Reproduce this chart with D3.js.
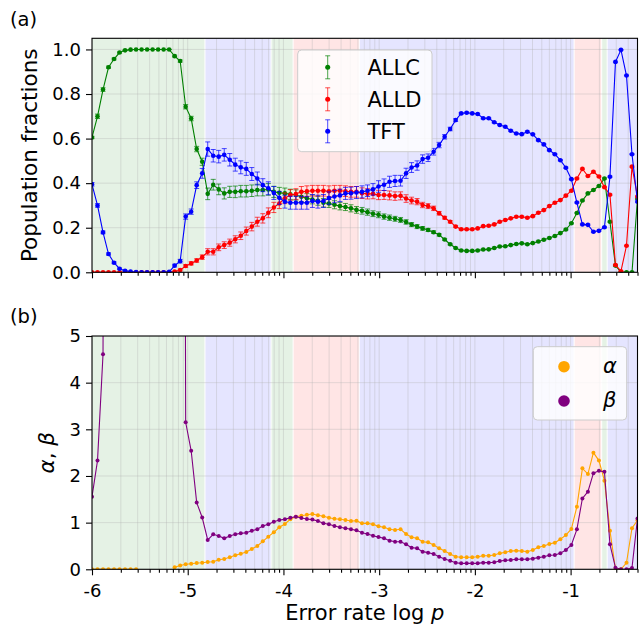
<!DOCTYPE html>
<html><head><meta charset="utf-8">
<script src="https://cdn.jsdelivr.net/npm/d3@7"></script>
<style>body{margin:0;background:#fff} text{font-family:"DejaVu Sans",sans-serif;fill:#000}</style>
</head><body><svg id="c" width="641" height="627"></svg>
<script>
// ---------- data ----------
const logpStart = -6, logpEnd = Math.log10(0.5), nPoints = 100;

const ALLC = [
0.605,0.70,0.82,0.92,0.957,0.986,0.996,0.999,1.0,1.0,
1.0,1.0,1.0,1.0,1.0,0.97,0.948,0.743,0.69,0.553,
0.496,0.352,0.393,0.372,0.354,0.361,0.361,0.364,0.364,0.366,
0.369,0.369,0.372,0.361,0.357,0.354,0.35,0.347,0.339,0.332,
0.327,0.321,0.312,0.309,0.303,0.297,0.293,0.287,0.28,0.276,
0.27,0.263,0.258,0.25,0.245,0.24,0.235,0.226,0.214,0.205,
0.197,0.19,0.18,0.168,0.147,0.126,0.109,0.098,0.096,0.096,
0.098,0.102,0.103,0.109,0.116,0.117,0.122,0.127,0.13,0.126,
0.131,0.138,0.146,0.154,0.163,0.176,0.192,0.22,0.266,0.322,
0.354,0.369,0.387,0.421,0.227,0.03,0.0,0.0,0.0,0.33];

const ALLD = [
0,0,0,0,0,0,0,0,0,0,
0,0,0,0,0,0.003,0.01,0.028,0.04,0.053,
0.068,0.092,0.092,0.112,0.122,0.133,0.148,0.164,0.185,0.205,
0.227,0.242,0.267,0.291,0.309,0.332,0.347,0.351,0.361,0.364,
0.366,0.366,0.366,0.364,0.366,0.366,0.364,0.361,0.361,0.355,
0.352,0.352,0.347,0.347,0.345,0.342,0.343,0.331,0.322,0.317,
0.302,0.297,0.287,0.265,0.245,0.227,0.205,0.193,0.193,0.193,
0.197,0.207,0.209,0.215,0.227,0.235,0.242,0.249,0.249,0.245,
0.252,0.267,0.279,0.297,0.312,0.324,0.344,0.366,0.421,0.464,
0.432,0.451,0.43,0.382,0.348,0.033,0.005,0.119,0.474,0.34];

const TFT = [
0.395,0.30,0.179,0.082,0.043,0.016,0.007,0.003,0.001,0.0,
0.0,0.0,0.0,0.0,0.002,0.03,0.05,0.25,0.272,0.391,
0.444,0.553,0.523,0.519,0.527,0.505,0.483,0.471,0.464,0.441,
0.421,0.391,0.377,0.356,0.334,0.317,0.312,0.312,0.312,0.312,
0.32,0.317,0.32,0.333,0.34,0.345,0.354,0.355,0.358,0.361,
0.366,0.372,0.385,0.393,0.406,0.41,0.411,0.444,0.47,0.479,
0.508,0.514,0.541,0.571,0.608,0.643,0.683,0.713,0.716,0.713,
0.71,0.691,0.691,0.673,0.661,0.653,0.635,0.623,0.62,0.631,
0.619,0.593,0.574,0.548,0.53,0.503,0.469,0.418,0.313,0.215,
0.213,0.182,0.186,0.202,0.429,0.944,0.998,0.883,0.53,0.317];

const errALLC = [
0.005,0.01,0.008,0.005,0.004,0.003,0.002,0.001,0,0,
0,0,0,0,0.001,0.004,0.005,0.01,0.01,0.012,
0.016,0.026,0.024,0.024,0.025,0.025,0.026,0.026,0.026,0.026,
0.026,0.026,0.026,0.025,0.024,0.024,0.023,0.023,0.022,0.021,
0.02,0.02,0.019,0.018,0.018,0.017,0.016,0.016,0.015,0.015,
0.014,0.013,0.013,0.012,0.012,0.011,0.011,0.01,0.009,0.009,
0.008,0.007,0.006,0.005,0.004,0.004,0.003,0.003,0.003,0.003,
0.003,0.003,0.003,0.003,0.003,0.003,0.003,0.003,0.003,0.003,
0.003,0.003,0.003,0.003,0.003,0.003,0.003,0.003,0.003,0.003,
0.003,0.003,0.003,0.003,0.003,0.003,0.002,0.002,0.002,0.003];

const errALLD = [
0.001,0.001,0.001,0.001,0.001,0.001,0.001,0.001,0.001,0.001,
0.001,0.001,0.001,0.001,0.001,0.002,0.004,0.006,0.007,0.008,
0.01,0.014,0.014,0.015,0.015,0.016,0.016,0.017,0.018,0.019,
0.02,0.021,0.022,0.023,0.023,0.024,0.024,0.024,0.024,0.024,
0.024,0.024,0.024,0.024,0.024,0.024,0.024,0.024,0.024,0.024,
0.023,0.022,0.021,0.02,0.02,0.019,0.018,0.017,0.015,0.014,
0.012,0.011,0.01,0.008,0.006,0.005,0.004,0.004,0.003,0.003,
0.003,0.003,0.003,0.003,0.003,0.003,0.003,0.003,0.003,0.003,
0.003,0.003,0.003,0.003,0.003,0.003,0.003,0.003,0.003,0.003,
0.003,0.003,0.003,0.003,0.003,0.003,0.002,0.002,0.003,0.003];

const errTFT = [
0.008,0.008,0.006,0.005,0.004,0.003,0.002,0.001,0,0,
0,0,0,0,0.001,0.006,0.008,0.012,0.012,0.015,
0.022,0.032,0.028,0.028,0.028,0.028,0.029,0.029,0.029,0.029,
0.029,0.029,0.029,0.029,0.029,0.029,0.029,0.029,0.029,0.029,
0.029,0.029,0.029,0.028,0.028,0.028,0.027,0.027,0.027,0.027,
0.026,0.026,0.026,0.026,0.025,0.025,0.024,0.023,0.022,0.021,
0.019,0.017,0.015,0.012,0.01,0.008,0.006,0.004,0.003,0.003,
0.003,0.003,0.003,0.003,0.003,0.003,0.003,0.003,0.003,0.003,
0.003,0.003,0.003,0.003,0.003,0.003,0.003,0.003,0.003,0.003,
0.003,0.003,0.003,0.003,0.003,0.003,0.002,0.002,0.003,0.003];

const alphaVals = [
0,0,0,0,0,0,0,0,0,null,
null,null,null,null,null,0.043,0.08,0.107,0.12,0.135,
0.14,0.156,0.163,0.206,0.22,0.257,0.3,0.334,0.371,0.435,
0.5,0.6,0.7,0.793,0.9,0.971,1.071,1.128,1.149,1.17,
1.185,1.157,1.136,1.106,1.085,1.071,1.057,1.035,1.04,0.985,
0.985,0.964,0.92,0.9,0.857,0.842,0.857,0.757,0.686,0.664,
0.592,0.578,0.521,0.45,0.392,0.328,0.27,0.257,0.257,0.257,
0.27,0.292,0.292,0.306,0.342,0.364,0.392,0.4,0.392,0.378,
0.413,0.471,0.5,0.542,0.571,0.642,0.735,0.864,1.342,2.164,
2.042,2.5,2.33,1.9,0.828,0.007,0.0,0.14,0.88,1.05];

const betaVals = [
1.556,2.33,4.61,50,50,50,50,50,50,50,
50,50,50,50,50,50,50,3.15,2.54,1.43,
1.11,0.63,0.75,0.714,0.664,0.714,0.75,0.77,0.785,0.828,
0.857,0.928,0.964,1.02,1.057,1.07,1.106,1.128,1.1,1.078,
1.065,1.035,0.985,0.964,0.928,0.9,0.878,0.857,0.835,0.785,
0.757,0.721,0.69,0.664,0.614,0.592,0.592,0.535,0.464,0.45,
0.378,0.357,0.328,0.27,0.221,0.185,0.142,0.128,0.128,0.128,
0.128,0.142,0.142,0.15,0.178,0.192,0.2,0.214,0.214,0.214,
0.228,0.25,0.27,0.3,0.306,0.342,0.413,0.521,0.857,1.52,
1.664,2.06,2.11,2.09,0.535,0.035,0.0,0.0,0.03,1.09];

// dominant-strategy regions: [first index, last index, strategy]
const regions = [[0,20,"ALLC"],[21,32,"TFT"],[33,36,"ALLC"],[37,48,"ALLD"],
                 [49,87,"TFT"],[88,92,"ALLD"],[93,93,"ALLC"],[94,99,"TFT"]];

const xTicks = [-6,-5,-4,-3,-2,-1];
const xTickLabels = ["-6","-5","-4","-3","-2","-1"];
const yTicksA = [0,0.2,0.4,0.6,0.8,1.0];
const yTickLabelsA = ["0.0","0.2","0.4","0.6","0.8","1.0"];
const yTicksB = [0,1,2,3,4,5];
const yTickLabelsB = ["0","1","2","3","4","5"];
const seriesA = [{name:"ALLC",vals:ALLC,err:errALLC},{name:"ALLD",vals:ALLD,err:errALLD},{name:"TFT",vals:TFT,err:errTFT}];
const seriesB = [{name:"α",vals:alphaVals,key:"alpha"},{name:"β",vals:betaVals,key:"beta"}];

// ---------- styles ----------
const colors = {ALLC:"green", ALLD:"red", TFT:"blue", alpha:"orange", beta:"purple"};
const spanFill = {ALLC:"rgba(0,128,0,0.1)", ALLD:"rgba(255,0,0,0.1)", TFT:"rgba(0,0,255,0.1)"};
const FONT = '"DejaVu Sans", sans-serif';

const step = (logpEnd - logpStart) / (nPoints - 1);
const logp = d3.range(nPoints).map(i => logpStart + i * step);

const X0 = 92, X1 = 637.5;
const x = d3.scaleLinear().domain([logpStart, logpEnd]).range([X0, X1]);
const yA = d3.scaleLinear().domain([0, 1.05]).range([272.3, 38.3]);
const yB = d3.scaleLinear().domain([0, 5]).range([569.3, 336]);
const halfStep = (x(logp[1]) - x(logp[0])) / 2;

const minorTicks = [];
for (let n = -6; n <= -1; n++) for (let k = 2; k <= 9; k++) {
  const v = n + Math.log10(k);
  if (v <= logpEnd + 1e-9) minorTicks.push(v);
}

const svg = d3.select("#c");
const defs = svg.append("defs");

function panel(y, yTicks, yLabels, id, showX) {
  const [yb, yt] = y.range();
  defs.append("clipPath").attr("id", id).append("rect")
    .attr("x", X0).attr("y", yt).attr("width", X1 - X0).attr("height", yb - yt);
  const g = svg.append("g");
  const clip = g.append("g").attr("clip-path", `url(#${id})`);
  clip.selectAll("rect.span").data(regions).join("rect").attr("class","span")
    .attr("x", d => x(logp[d[0]]) - halfStep + 0.5)
    .attr("width", d => x(logp[d[1]]) - x(logp[d[0]]) + 2 * halfStep - 1)
    .attr("y", yt).attr("height", yb - yt)
    .attr("fill", d => spanFill[d[2]]);
  const grid = clip.append("g").attr("stroke", "#b0b0b0").attr("stroke-opacity", 0.45).attr("stroke-width", 0.8);
  grid.selectAll("line.v").data(xTicks.concat(minorTicks)).join("line").attr("class","v")
    .attr("x1", d => x(d)).attr("x2", d => x(d)).attr("y1", yt).attr("y2", yb);
  grid.selectAll("line.h").data(yTicks).join("line").attr("class","h")
    .attr("x1", X0).attr("x2", X1).attr("y1", d => y(d)).attr("y2", d => y(d));
  // axes
  const ax = d3.axisBottom(x).tickValues(xTicks).tickSize(6).tickPadding(9.5)
    .tickFormat((d, i) => showX ? xTickLabels[i] : "");
  const axG = g.append("g").attr("transform", `translate(0,${yb})`).call(ax);
  const axm = d3.axisBottom(x).tickValues(minorTicks).tickSize(3.5).tickFormat("");
  const axmG = g.append("g").attr("transform", `translate(0,${yb})`).call(axm);
  const ay = d3.axisLeft(y).tickValues(yTicks).tickSize(6).tickPadding(5)
    .tickFormat((d, i) => yLabels[i]);
  const ayG = g.append("g").attr("transform", `translate(${X0},0)`).call(ay);
  [axG, axmG, ayG].forEach(a => {
    a.select(".domain").remove();
    a.selectAll("line").attr("stroke", "#000").attr("stroke-width", 1.1);
    a.selectAll("text").attr("font-family", FONT).attr("font-size", 18).attr("fill", "#000");
  });
  axG.selectAll("text").attr("dy", "0.66em");
  return {g, clip, yt, yb};
}

// ---------- panel (a) ----------
const pa = panel(yA, yTicksA, yTickLabelsA, "clipA", false);
seriesA.forEach(s => {
  const c = colors[s.name];
  const sg = pa.clip.append("g");
  const eb = sg.append("g").attr("stroke", c).attr("stroke-opacity", 0.7).attr("stroke-width", 1);
  s.vals.forEach((v, i) => {
    const e = s.err[i];
    if (e <= 0) return;
    const cx = x(logp[i]), y1 = yA(v - e), y2 = yA(v + e);
    eb.append("line").attr("x1", cx).attr("x2", cx).attr("y1", y1).attr("y2", y2);
    eb.append("line").attr("x1", cx - 2.5).attr("x2", cx + 2.5).attr("y1", y1).attr("y2", y1);
    eb.append("line").attr("x1", cx - 2.5).attr("x2", cx + 2.5).attr("y1", y2).attr("y2", y2);
  });
  sg.append("path").datum(s.vals)
    .attr("d", d3.line().x((d, i) => x(logp[i])).y(d => yA(d)))
    .attr("fill", "none").attr("stroke", c).attr("stroke-width", 1.1);
  sg.selectAll("circle").data(s.vals).join("circle")
    .attr("cx", (d, i) => x(logp[i])).attr("cy", d => yA(d)).attr("r", 2.3).attr("fill", c);
});
pa.g.append("rect").attr("x", X0).attr("y", pa.yt).attr("width", X1 - X0).attr("height", pa.yb - pa.yt)
  .attr("fill", "none").attr("stroke", "#000").attr("stroke-width", 1.1);

// legend (a)
const la = svg.append("g");
la.append("rect").attr("x", 297.7).attr("y", 50).attr("width", 134.3).attr("height", 101.7).attr("rx", 4)
  .attr("fill", "#fff").attr("fill-opacity", 0.8).attr("stroke", "#cccccc").attr("stroke-width", 1);
seriesA.forEach((s, k) => {
  const cy = 67.3 + 32 * k, c = colors[s.name], cx = 327.7;
  la.append("line").attr("x1", cx).attr("x2", cx).attr("y1", cy - 11.5).attr("y2", cy + 11.5)
    .attr("stroke", c).attr("stroke-opacity", 0.7).attr("stroke-width", 1);
  [cy - 11.5, cy + 11.5].forEach(yy => la.append("line").attr("x1", cx - 2.5).attr("x2", cx + 2.5)
    .attr("y1", yy).attr("y2", yy).attr("stroke", c).attr("stroke-opacity", 0.7).attr("stroke-width", 1));
  la.append("circle").attr("cx", cx).attr("cy", cy).attr("r", 2.5).attr("fill", c);
  la.append("text").attr("x", 367.5).attr("y", cy + 7.6).attr("font-size", 21).attr("font-family", FONT).text(s.name);
});

// ---------- panel (b) ----------
const pb = panel(yB, yTicksB, yTickLabelsB, "clipB", true);
seriesB.forEach(s => {
  const c = colors[s.key];
  const sg = pb.clip.append("g");
  sg.append("path").datum(s.vals)
    .attr("d", d3.line().defined(d => d != null).x((d, i) => x(logp[i])).y(d => yB(d)))
    .attr("fill", "none").attr("stroke", c).attr("stroke-width", 1.1);
  sg.selectAll("circle").data(s.vals.map((v, i) => [v, i]).filter(d => d[0] != null)).join("circle")
    .attr("cx", d => x(logp[d[1]])).attr("cy", d => yB(d[0])).attr("r", 2.0).attr("fill", c);
});
pb.g.append("rect").attr("x", X0).attr("y", pb.yt).attr("width", X1 - X0).attr("height", pb.yb - pb.yt)
  .attr("fill", "none").attr("stroke", "#000").attr("stroke-width", 1.1);

// legend (b)
const lb = svg.append("g");
lb.append("rect").attr("x", 533.3).attr("y", 346.7).attr("width", 93.4).attr("height", 73.3).attr("rx", 4)
  .attr("fill", "#fff").attr("fill-opacity", 0.8).attr("stroke", "#cccccc").attr("stroke-width", 1);
seriesB.forEach((s, k) => {
  const cy = 366.7 + 34.3 * k;
  lb.append("circle").attr("cx", 564).attr("cy", cy).attr("r", 5.8).attr("fill", colors[s.key]);
  lb.append("text").attr("x", 603).attr("y", cy + 6.3).attr("font-size", 21).attr("font-family", FONT)
    .attr("font-style", "italic").text(s.name);
});

// ---------- labels ----------
svg.append("text").attr("x", 10).attr("y", 25.5).attr("font-size", 19.5).attr("font-family", FONT).text("(a)");
svg.append("text").attr("x", 10).attr("y", 322.5).attr("font-size", 19.5).attr("font-family", FONT).text("(b)");
svg.append("text").attr("transform", "translate(37,155.3) rotate(-90)").attr("text-anchor", "middle")
  .attr("font-size", 21.5).attr("font-family", FONT).text("Population fractions");
const yl = svg.append("text").attr("transform", "translate(54,452.7) rotate(-90)").attr("text-anchor", "middle")
  .attr("font-size", 21.5).attr("font-family", FONT);
yl.append("tspan").attr("font-style", "italic").text("α");
yl.append("tspan").text(", ");
yl.append("tspan").attr("font-style", "italic").text("β");
const xl = svg.append("text").attr("x", (X0 + X1) / 2).attr("y", 620).attr("text-anchor", "middle")
  .attr("font-size", 21).attr("font-family", FONT);
xl.append("tspan").text("Error rate log ");
xl.append("tspan").attr("font-style", "italic").text("p");
</script></body></html>
